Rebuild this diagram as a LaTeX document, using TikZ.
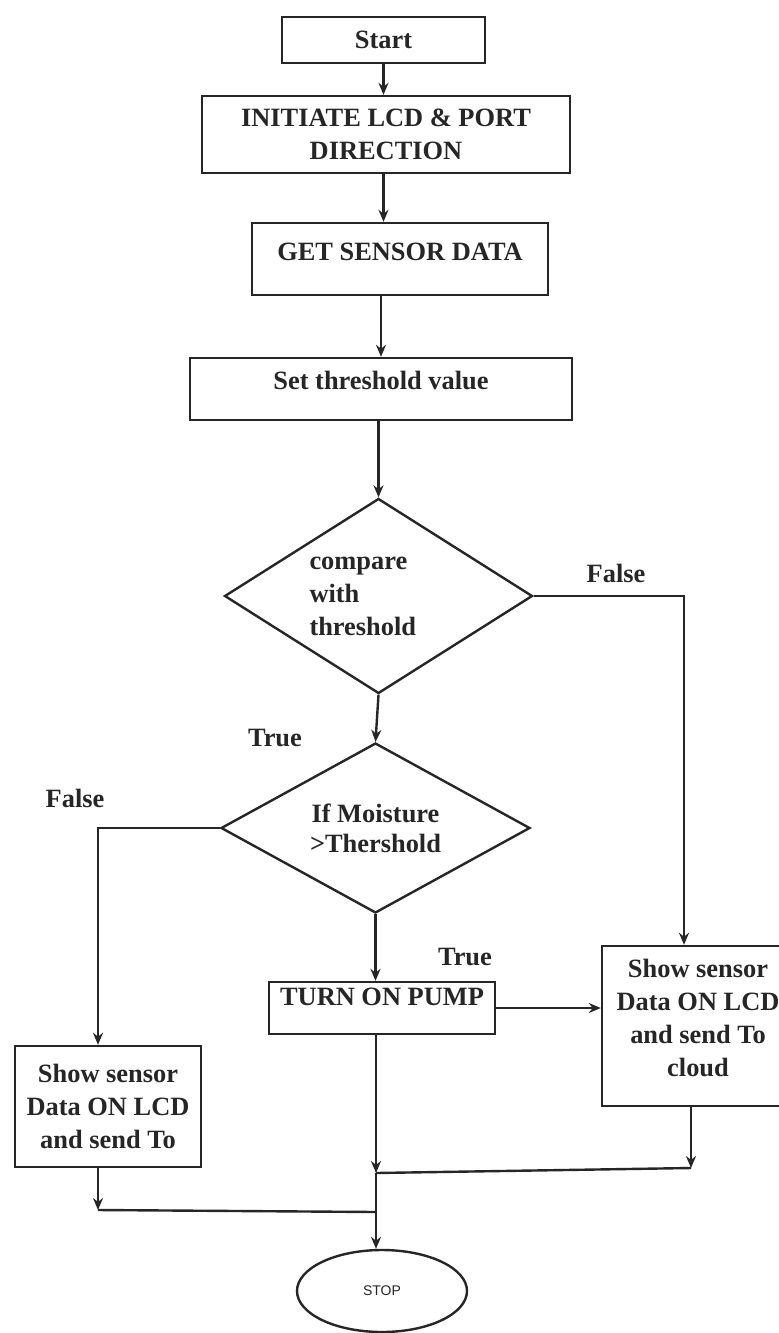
\documentclass[tikz,border=0pt]{standalone}
\usepackage{fontspec}
\setmainfont{Liberation Serif}
\newfontfamily\stopfont{Liberation Sans}
\usetikzlibrary{arrows.meta,shapes.geometric,calc}
\definecolor{ink}{HTML}{262626}

\begin{document}
\begin{tikzpicture}[
            > = {Stealth[length=6pt, width=5pt]}, % arrow head style
            x = 0.5pt, y = -0.5pt, % pixel grid, y runs down
            line width = 1.2pt, % line style
            color = ink,
            font = \fontsize{13.2pt}{16.5pt}\selectfont\bfseries
        ]

        \tikzstyle{box}=[
            draw,
            rectangle,
            inner sep = 0pt,
            align = center
        ]
        \tikzstyle{decision}=[
            draw,
            diamond,
            inner sep = 0pt
        ]
        \tikzstyle{terminal}=[
            draw,
            ellipse,
            inner sep = 0pt,
            font = \stopfont\fontsize{7pt}{8pt}\selectfont
        ]
        \tikzstyle{tag}=[inner sep = 0pt]

        \fill[white] (0,0) rectangle (779,1333);
        \useasboundingbox (0,0) rectangle (779,1333);

        \node[box, minimum width=101.5pt, minimum height=23pt] (start) at (383.5,40) {Start};
        \node[box, minimum width=184pt, minimum height=38.5pt] (init) at (386,134.5) {INITIATE LCD \& PORT\\DIRECTION};
        \node[box, minimum width=148pt, minimum height=36pt, text depth=7pt] (getdata) at (400,259) {GET SENSOR DATA};
        \node[box, minimum width=191pt, minimum height=31pt, text depth=9pt] (thresh) at (381,389) {Set threshold value};

        \node[decision, aspect=1.58, minimum width=154pt, minimum height=97.5pt,
              text width=69pt, align=left] (cmp) at (378.5,596) {compare\\with\\threshold};
        \node[decision, aspect=1.82, minimum width=154.5pt, minimum height=85pt,
              align=center, font=\fontsize{13.2pt}{15pt}\selectfont\bfseries] (moist) at (375.5,828) {If Moisture\\>Thershold};

        \node[box, minimum width=113pt, minimum height=26pt, text depth=11pt] (pump) at (382,1008) {TURN ON PUMP};
        \node[box, minimum width=96pt, minimum height=80pt, text depth=8pt] (showcloud) at (698,1026) {Show sensor\\Data ON LCD\\and send To\\cloud};
        \node[box, minimum width=93pt, minimum height=60.5pt] (showlcd) at (108,1106.5) {Show sensor\\Data ON LCD\\and send To};
        \node[terminal, minimum width=85pt, minimum height=41pt] (stop) at (382,1291) {STOP};

        \node[tag] (cmptrue) at (275,738) {True};
        \node[tag] (cmpfalse) at (616,573) {False};
        \node[tag] (moistfalse) at (75,798) {False};
        \node[tag] (moisttrue) at (465,957) {True};

        \coordinate (pumpjoin) at (376,1173);
        \coordinate (cloudjoin) at (691,1168);
        \coordinate (lcdjoin) at (98,1210);
        \coordinate (stopjoin) at (376,1212);

        \draw[->] (start.south) -- (start.south |- init.north);
        \draw[->] (init.south -| start) -- (getdata.north -| start);
        \draw[->] (getdata.south -| thresh) -- (thresh.north);
        \draw[->] (thresh.south -| cmp.north) -- (cmp.north);
        \draw[->] (cmp.south) -- (moist.north);
        \draw[->] (cmp.east) -| ([xshift=-7pt]showcloud.north);
        \draw[->] (moist.west) -| ([xshift=-5pt]showlcd.north);
        \draw[->] (moist.south) -- (moist.south |- pump.north);
        \draw[->] (pump.east) -- (showcloud.west |- pump.east);
        \draw[->] (pumpjoin |- pump.south) -- (pumpjoin);
        \draw[->] (cloudjoin |- showcloud.south) -- (cloudjoin);
        \draw (cloudjoin) -- (pumpjoin);
        \draw[->] (lcdjoin |- showlcd.south) -- (lcdjoin);
        \draw (lcdjoin) -- (stopjoin);
        \draw[->] (pumpjoin) -- (pumpjoin |- stop.north);

    \end{tikzpicture}
\end{document}
